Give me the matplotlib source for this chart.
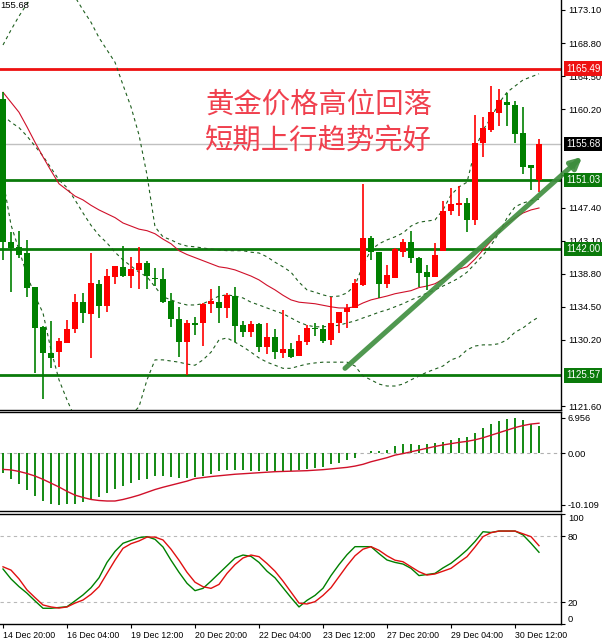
import numpy as np
import matplotlib
matplotlib.use("Agg")
import matplotlib.pyplot as plt

plt.rcParams['font.family'] = ['Liberation Sans', 'DejaVu Sans']

# ---- data (XAUUSD H4) ----
opens = [1161.5, 1142.9, 1142.3, 1141.5, 1137.1, 1131.9, 1128.5, 1128.6, 1129.8, 1131.6,
         1135.1, 1133.6, 1137.5, 1134.6, 1138.4, 1139.7, 1138.5, 1139.3, 1140.2, 1138.3,
         1138.1, 1135.2, 1132.9, 1129.9, 1132.4, 1132.4, 1134.9, 1135.1, 1134.4, 1135.9,
         1132.1, 1131.2, 1132.3, 1129.3, 1130.6, 1128.5, 1129.0, 1128.1, 1129.9, 1131.8,
         1131.6, 1130.2, 1132.4, 1133.8, 1134.4, 1137.3, 1143.5, 1141.6, 1137.5, 1138.3,
         1141.6, 1142.9, 1140.9, 1139.0, 1138.4, 1141.8, 1147.0, 1147.7, 1148.0, 1145.8,
         1155.8, 1157.5, 1159.7, 1161.1, 1160.75, 1157.1, 1152.95, 1151.0]
highs = [1162.4, 1144.2, 1144.4, 1143.2, 1137.1, 1132.0, 1132.7, 1130.5, 1132.8, 1136.2,
         1136.3, 1141.5, 1138.0, 1139.4, 1139.8, 1142.4, 1141.0, 1142.3, 1140.5, 1139.6,
         1139.6, 1136.3, 1134.5, 1132.8, 1133.2, 1135.0, 1136.8, 1137.2, 1136.3, 1137.1,
         1132.6, 1132.6, 1132.4, 1132.4, 1131.6, 1134.1, 1129.8, 1130.8, 1132.1, 1132.4,
         1132.1, 1135.8, 1133.8, 1134.9, 1138.1, 1150.5, 1143.7, 1141.6, 1139.9, 1142.2,
         1143.3, 1144.3, 1141.0, 1139.9, 1142.8, 1148.3, 1150.0, 1150.2, 1148.6, 1159.4,
         1159.2, 1163.2, 1162.8, 1162.3, 1161.3, 1160.5, 1152.95, 1156.3]
lows = [1140.6, 1136.4, 1140.9, 1135.8, 1125.9, 1122.5, 1126.5, 1126.7, 1129.8, 1131.1,
        1132.4, 1127.8, 1133.0, 1133.8, 1137.5, 1138.4, 1136.9, 1136.8, 1136.8, 1137.2,
        1135.0, 1131.9, 1128.0, 1125.6, 1130.8, 1129.4, 1133.7, 1132.4, 1133.0, 1129.9,
        1130.6, 1130.6, 1128.6, 1128.4, 1127.7, 1127.8, 1127.8, 1128.1, 1129.5, 1130.7,
        1129.8, 1129.5, 1131.1, 1131.8, 1134.4, 1137.2, 1140.6, 1135.6, 1137.0, 1138.2,
        1141.0, 1140.2, 1137.1, 1136.7, 1138.4, 1141.8, 1146.4, 1146.3, 1144.2, 1145.1,
        1154.0, 1157.2, 1158.0, 1158.0, 1155.8, 1151.8, 1149.7, 1149.4]
closes = [1142.9, 1142.1, 1141.2, 1137.0, 1131.7, 1128.5, 1127.8, 1130.1, 1131.6, 1135.1,
          1133.7, 1137.6, 1134.6, 1138.5, 1139.8, 1138.5, 1139.4, 1140.2, 1138.5, 1138.1,
          1135.1, 1132.9, 1129.9, 1132.4, 1132.1, 1134.9, 1135.2, 1134.4, 1136.0, 1132.0,
          1131.2, 1132.3, 1129.3, 1130.6, 1128.6, 1129.0, 1128.0, 1130.1, 1131.8, 1131.6,
          1130.1, 1132.4, 1133.8, 1134.4, 1137.6, 1143.5, 1141.6, 1137.5, 1138.6, 1142.0,
          1142.9, 1140.9, 1138.9, 1138.4, 1141.2, 1147.0, 1147.9, 1148.0, 1145.8, 1155.8,
          1157.8, 1159.8, 1161.4, 1160.75, 1157.0, 1152.7, 1152.55, 1155.68]

ma_slow = [1162.4, 1161.1, 1159.8, 1157.9, 1155.9, 1154.0, 1152.2, 1150.5, 1149.7, 1148.9,
           1148.4, 1147.7, 1147.1, 1146.6, 1146.1, 1145.4, 1145.0, 1144.6, 1144.4, 1144.0,
           1143.3, 1142.7, 1141.8, 1141.3, 1140.9, 1140.5, 1140.1, 1139.7, 1139.55, 1139.3,
           1138.9, 1138.5, 1138.0, 1137.3, 1136.7, 1136.0, 1135.4, 1135.1, 1135.0, 1134.9,
           1134.7, 1134.5, 1134.35, 1134.35, 1134.5, 1135.0, 1135.4, 1135.65, 1135.9, 1136.2,
           1136.4, 1136.6, 1137.0, 1137.2, 1137.5, 1138.1, 1138.8, 1139.4, 1139.7, 1140.7,
           1141.9, 1143.05, 1144.35, 1145.3, 1146.05, 1146.7, 1147.1, 1147.35]
bb_mid = [1159.4, 1158.5, 1157.8, 1156.7, 1155.4, 1154.1, 1152.55, 1151.0, 1150.0, 1148.4,
          1146.7, 1145.1, 1143.8, 1142.8, 1141.6, 1140.6, 1139.8, 1139.0, 1138.4, 1137.1,
          1135.8, 1135.4, 1135.0, 1134.74, 1134.74, 1134.9, 1135.4, 1135.9, 1136.05, 1135.9,
          1135.65, 1135.1, 1134.74, 1134.35, 1133.96, 1133.6, 1133.05, 1132.5, 1132.1, 1131.9,
          1131.9, 1132.0, 1132.1, 1132.4, 1132.66, 1133.05, 1133.4, 1133.8, 1134.1, 1134.5,
          1134.9, 1135.4, 1135.8, 1136.3, 1136.7, 1137.2, 1137.7, 1138.25, 1139.0, 1140.1,
          1141.2, 1142.5, 1144.1, 1146.05, 1147.5, 1148.0, 1148.3, 1148.5]
bb_up = [1168.55, 1170.5, 1172.3, 1173.9, 1175.4, 1176.35, 1176.7, 1176.5, 1175.7, 1174.8,
         1173.1, 1171.5, 1169.5, 1167.9, 1166.3, 1163.35, 1160.5, 1156.85, 1151.65, 1144.9,
         1143.6, 1143.2, 1142.7, 1142.4, 1142.3, 1142.15, 1142.0, 1141.9, 1141.8, 1141.8,
         1141.8, 1141.6, 1141.5, 1141.0, 1140.3, 1139.7, 1139.0, 1137.7, 1136.7, 1136.4,
         1136.05, 1135.8, 1135.9, 1136.3, 1137.3, 1139.9, 1141.9, 1142.7, 1143.2, 1143.6,
         1144.1, 1145.0, 1145.5, 1145.65, 1145.8, 1147.1, 1149.05, 1150.1, 1150.7, 1154.9,
         1157.5, 1159.05, 1161.0, 1162.4, 1163.2, 1164.0, 1164.4, 1164.8]
bb_low = [1151.0, 1145.15, 1141.9, 1138.65, 1135.9, 1133.7, 1128.9, 1125.0, 1122.4, 1120.05,
          1118.75, 1117.8, 1117.7, 1118.2, 1118.75, 1119.5, 1120.4, 1121.5, 1125.0, 1127.6,
          1127.6, 1127.45, 1127.3, 1127.05, 1126.9, 1127.6, 1128.6, 1130.2, 1130.45, 1129.9,
          1129.3, 1128.6, 1127.85, 1127.3, 1126.9, 1126.5, 1126.5, 1126.8, 1127.05, 1127.2,
          1127.3, 1127.3, 1127.3, 1127.3, 1126.8, 1125.5, 1125.0, 1124.45, 1124.2, 1124.2,
          1124.45, 1125.0, 1125.5, 1126.0, 1126.4, 1126.8, 1127.6, 1127.95, 1128.9, 1129.4,
          1129.55, 1129.55, 1129.7, 1130.2, 1131.2, 1131.75, 1132.55, 1133.2]

macd_hist = [-4.0, -5.0, -6.1, -7.2, -8.4, -9.4, -10.0, -10.109, -10.05, -9.9,
             -9.5, -9.0, -8.6, -7.9, -7.1, -6.5, -5.85, -5.3, -5.0, -4.55,
             -4.5, -4.7, -4.9, -4.9, -4.7, -4.4, -4.05, -3.6, -3.4, -3.4,
             -3.4, -3.5, -3.5, -3.5, -3.5, -3.5, -3.5, -3.4, -3.1, -2.9,
             -2.7, -2.2, -1.9, -1.35, -0.95, 0.05, 0.45, 0.45, 0.7, 1.3,
             1.8, 1.8, 1.65, 1.8, 1.9, 2.2, 2.55, 3.05, 3.2, 4.0,
             4.9, 5.65, 6.3, 6.7, 6.956, 6.5, 5.8, 5.35]
macd_signal = [-3.2, -3.3, -3.6, -4.0, -4.5, -5.15, -5.9, -6.65, -7.5, -8.25,
               -8.7, -9.1, -9.3, -9.4, -9.4, -9.1, -8.7, -8.25, -7.7, -7.15,
               -6.7, -6.3, -5.9, -5.5, -5.0, -4.8, -4.6, -4.45, -4.3, -4.15,
               -4.05, -3.95, -3.85, -3.75, -3.65, -3.6, -3.55, -3.5, -3.45, -3.35,
               -3.25, -3.1, -2.95, -2.8, -2.55, -2.2, -1.7, -1.3, -0.9, -0.4,
               -0.1, 0.25, 0.6, 0.95, 1.3, 1.6, 1.85, 2.1, 2.3, 2.6,
               3.0, 3.5, 4.0, 4.5, 5.0, 5.4, 5.7, 5.86]

stoch_k = [50, 41, 34, 28, 21, 14.3, 14.3, 15, 15.7, 21,
           26.4, 33, 42, 56, 66, 73.4, 76, 78.5, 79.4, 77,
           70, 58, 47, 37, 30.3, 32.4, 39, 46, 53, 60,
           62.7, 61.5, 56, 48, 42, 33, 24, 15.5, 21.5, 26,
           32.5, 44, 54, 63, 70.3, 70.3, 70.3, 64, 58.2, 56,
           54.5, 50.6, 44, 45, 46, 51, 55.2, 61, 67.3, 75,
           83.9, 83.2, 84.5, 84.5, 84.5, 81, 73.4, 65.2]
stoch_d = [52, 49, 41, 31, 24, 17.3, 15.5, 14.5, 15.5, 19,
           21.8, 27, 33.9, 46, 58, 68.8, 73, 75.5, 79, 79,
           76.4, 68, 58, 47, 38, 33.9, 32.4, 36, 46, 54,
           60, 62.7, 61.2, 55, 48, 39, 29, 19, 18.2, 20.3,
           26, 33, 43, 53, 62, 68, 70.3, 67, 62, 58,
           56.6, 52, 47.5, 44.5, 45.5, 48, 50.6, 56, 61.2, 70,
           79.4, 83, 84.5, 84.5, 84.5, 82, 79.4, 71.2]

time_labels = ["14 Dec 20:00", "16 Dec 04:00", "19 Dec 12:00", "20 Dec 20:00",
               "22 Dec 04:00", "23 Dec 12:00", "27 Dec 20:00", "29 Dec 04:00",
               "30 Dec 12:00"]
# grid prices; the ones fully hidden behind the price boxes are left out
price_ticks = [1173.10, 1168.80, 1164.50, 1160.20, 1151.60, 1147.40,
               1143.10, 1138.80, 1134.50, 1130.20, 1121.60]
resistance = 1165.49
supports = [1151.03, 1142.00, 1125.57]
last_price = 1155.68
arrow_from = (42.75, 1126.5)
arrow_to = (72.4, 1154.0)
headline = ["黄金价格高位回落", "短期上行趋势完好"]

UP = '#ff0000'
DOWN = '#008000'
LINE_GREEN = '#0a7a0a'
BAND = '#1f5f1f'

n = len(opens)
x = np.arange(n)
W, H = 602, 640
fig = plt.figure(figsize=(W / 100, H / 100), dpi=100)


def px_axes(x0, y0, x1, y1):
    return fig.add_axes([x0 / W, 1 - y1 / H, (x1 - x0) / W, (y1 - y0) / H])


ax = px_axes(0, 0, 561, 410)
ax_m = px_axes(0, 412, 561, 511)
ax_s = px_axes(0, 514, 561, 624)

xlim = (-0.375, 69.75)
for a in (ax, ax_m, ax_s):
    a.set_xlim(*xlim)
    a.spines['left'].set_visible(False)
    a.yaxis.tick_right()
    a.tick_params(axis='y', length=3, width=0.8, labelsize=6.7, pad=2, colors='black')
    a.set_xticks([])
    for s in a.spines.values():
        s.set_linewidth(1.0)
ax.spines['top'].set_visible(False)

# ---- main price panel ----
ax.set_ylim(1121.08, 1174.40)
ax.set_yticks(price_ticks)
ax.set_yticklabels([f"{v:.2f}" for v in price_ticks])

ax.axhline(last_price, color='#c0c0c0', lw=1, zorder=1)
ax.axhline(resistance, color='#ee1111', lw=2, zorder=2)
for s in supports:
    ax.axhline(s, color=LINE_GREEN, lw=2, zorder=2)

ax.plot(x, bb_up, color=BAND, lw=0.8, ls=(0, (3, 3)), zorder=3)
ax.plot(x, bb_mid, color=BAND, lw=0.8, ls=(0, (3, 3)), zorder=3)
ax.plot(x, bb_low, color=BAND, lw=0.8, ls=(0, (3, 3)), zorder=3)
ax.plot(x, ma_slow, color='#d0102a', lw=0.8, zorder=3)

o = np.array(opens)
c = np.array(closes)
cols = [UP if cc >= oo else DOWN for oo, cc in zip(o, c)]
ax.vlines(x, lows, highs, colors=cols, lw=1.2, zorder=4)
body_h = np.maximum(np.abs(c - o), 0.18)
ax.bar(x, body_h, bottom=np.minimum(o, c), width=0.68, color=cols, zorder=5)

ax.annotate('', xy=arrow_to, xytext=arrow_from, annotation_clip=False,
            arrowprops=dict(arrowstyle='-|>', lw=3.6, color='#3d8d3d', alpha=0.9,
                            mutation_scale=16, shrinkA=0, shrinkB=0), zorder=6)

for i, line in enumerate(headline):
    ax.text(205 / 561, 1 - (105 + 37 * i) / 410, line, transform=ax.transAxes,
            family=['Noto Sans CJK SC', 'DejaVu Sans'], fontsize=20.4, color='#f0404e',
            fontweight='light', va='center', ha='left', zorder=7)

ax.text(0, 1 - 5 / 410, "155.68", transform=ax.transAxes, fontsize=6.8,
        va='center', ha='left')

ytr = ax.get_yaxis_transform()
for val, bg in [(resistance, '#ee1111'), (last_price, 'black')] + [(s, LINE_GREEN) for s in supports]:
    ax.text(1.0 + 5 / 561, val, f"{val:.2f}", transform=ytr, fontsize=7.0, color='white',
            va='center', ha='left', zorder=10, clip_on=False,
            bbox=dict(boxstyle='square,pad=0.22', fc=bg, ec='none'))

# ---- MACD panel ----
ax_m.set_ylim(-11.36, 8.06)
ax_m.axhline(0, color='#b0b0b0', lw=0.8, ls=(0, (3, 3)))
ax_m.vlines(x, 0, macd_hist, colors=DOWN, lw=1.3, zorder=3)
ax_m.plot(x, macd_signal, color='#d0102a', lw=1.0, zorder=4)
ax_m.set_yticks([6.956, 0.0, -10.109])
ax_m.set_yticklabels(["6.956", "0.00", "-10.109"])

# ---- Stochastic panel ----
ax_s.set_ylim(0, 100)
for lv in (80, 20):
    ax_s.axhline(lv, color='#b8b8b8', lw=0.8, ls=(0, (3, 3)))
ax_s.plot(x, stoch_k, color=DOWN, lw=1.0, zorder=3)
ax_s.plot(x, stoch_d, color='#e01010', lw=1.0, zorder=3)
ax_s.set_yticks([100, 80, 20, 0])
ax_s.set_yticklabels(["100", "80", "20", "0"])
lbls = ax_s.get_yticklabels()
lbls[0].set_va('top')
lbls[3].set_va('bottom')

tick_idx = list(range(0, n, 8))
ax_s.set_xticks(tick_idx)
ax_s.set_xticklabels(time_labels, ha='left', fontsize=6.3)
ax_s.tick_params(axis='x', length=3, width=0.8, pad=2)

fig.savefig("out.png", dpi=100)
